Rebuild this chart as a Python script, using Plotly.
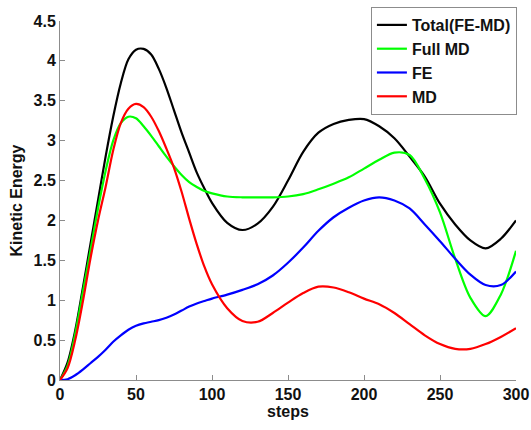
import plotly.graph_objects as go

steps = [0, 5, 10, 15, 20, 25, 30, 35, 40, 45, 50, 55, 60, 65, 70, 75, 80, 85, 90, 95,
         100, 110, 120, 130, 140, 150, 160, 170, 180, 190, 200, 210, 220, 230, 240,
         250, 260, 270, 280, 290, 300]

total_fe_md = [0, 0.22, 0.62, 1.15, 1.7, 2.25, 2.8, 3.3, 3.72, 4.02, 4.14, 4.15, 4.08, 3.9,
               3.66, 3.38, 3.1, 2.85, 2.6, 2.4, 2.22, 1.97, 1.88, 1.96, 2.17, 2.5, 2.86,
               3.1, 3.21, 3.26, 3.27, 3.18, 3.03, 2.8, 2.55, 2.21, 1.95, 1.75, 1.65, 1.77, 2.0]

full_md = [0, 0.18, 0.58, 1.1, 1.62, 2.15, 2.62, 3.0, 3.22, 3.3, 3.28, 3.18, 3.06, 2.93,
           2.8, 2.68, 2.57, 2.48, 2.42, 2.37, 2.34, 2.3, 2.29, 2.29, 2.29, 2.3, 2.33,
           2.39, 2.46, 2.54, 2.65, 2.76, 2.85, 2.82, 2.52, 2.1, 1.52, 1.03, 0.8, 1.07, 1.62]

fe = [0, 0.01, 0.06, 0.13, 0.21, 0.29, 0.38, 0.48, 0.56, 0.63, 0.68, 0.71, 0.73, 0.75,
      0.78, 0.82, 0.87, 0.92, 0.96, 0.99, 1.02, 1.07, 1.13, 1.2, 1.31, 1.47, 1.66,
      1.87, 2.04, 2.16, 2.25, 2.29, 2.25, 2.15, 1.95, 1.74, 1.52, 1.32, 1.19, 1.19, 1.36]

md = [0, 0.15, 0.5, 0.98, 1.52, 2.0, 2.42, 2.88, 3.22, 3.4, 3.46, 3.42, 3.3, 3.12,
      2.9, 2.66, 2.36, 2.02, 1.7, 1.42, 1.2, 0.9, 0.74, 0.73, 0.84, 0.97, 1.09,
      1.17, 1.16, 1.1, 1.02, 0.95, 0.84, 0.7, 0.56, 0.45, 0.39, 0.39, 0.45, 0.54, 0.65]

series_names = ["Total(FE-MD)", "Full MD", "FE", "MD"]
series_colors = ["#000000", "#00ff00", "#0000ff", "#ff0000"]

x_ticks = [0, 50, 100, 150, 200, 250, 300]
y_ticks = [0, 0.5, 1, 1.5, 2, 2.5, 3, 3.5, 4, 4.5]
y_tick_labels = ["0", "0.5", "1", "1.5", "2", "2.5", "3", "3.5", "4", "4.5"]

fig = go.Figure()
for name, ys, col in zip(series_names, [total_fe_md, full_md, fe, md], series_colors):
    fig.add_trace(go.Scatter(x=steps, y=ys, mode="lines", name=name,
                             line=dict(color=col, width=2.2, shape="spline", smoothing=0.9)))

font_family = "Liberation Sans, Arial, sans-serif"
axis_common = dict(
    showline=True, linecolor="#8c8c8c", linewidth=1,
    ticks="inside", ticklen=5, tickcolor="#8c8c8c",
    showgrid=False, zeroline=False, mirror=False,
    tickfont=dict(family=font_family, size=16, color="#111", weight="bold"),
)

fig.update_layout(
    width=531, height=430,
    margin=dict(l=60, r=15, t=21, b=50, autoexpand=False),
    paper_bgcolor="white", plot_bgcolor="white",
    xaxis=dict(range=[0, 300], tickvals=x_ticks,
               title=dict(text="steps", font=dict(family=font_family, size=16, color="#111", weight="bold"),
                          standoff=2),
               **axis_common),
    yaxis=dict(range=[0, 4.5], tickvals=y_ticks, ticktext=y_tick_labels,
               title=dict(text="Kinetic Energy", font=dict(family=font_family, size=16, color="#111", weight="bold"),
                          standoff=6),
               **axis_common),
    legend=dict(x=1.002, y=1.039, xanchor="right", yanchor="top",
                bordercolor="#8c8c8c", borderwidth=1, bgcolor="white",
                font=dict(family=font_family, size=16, color="#111", weight="bold"),
                tracegroupgap=0, itemwidth=30),
    showlegend=True,
)

fig.write_html("out.html", config={"displayModeBar": False},
               post_script="document.body.style.margin='0';document.body.style.overflow='hidden';")
